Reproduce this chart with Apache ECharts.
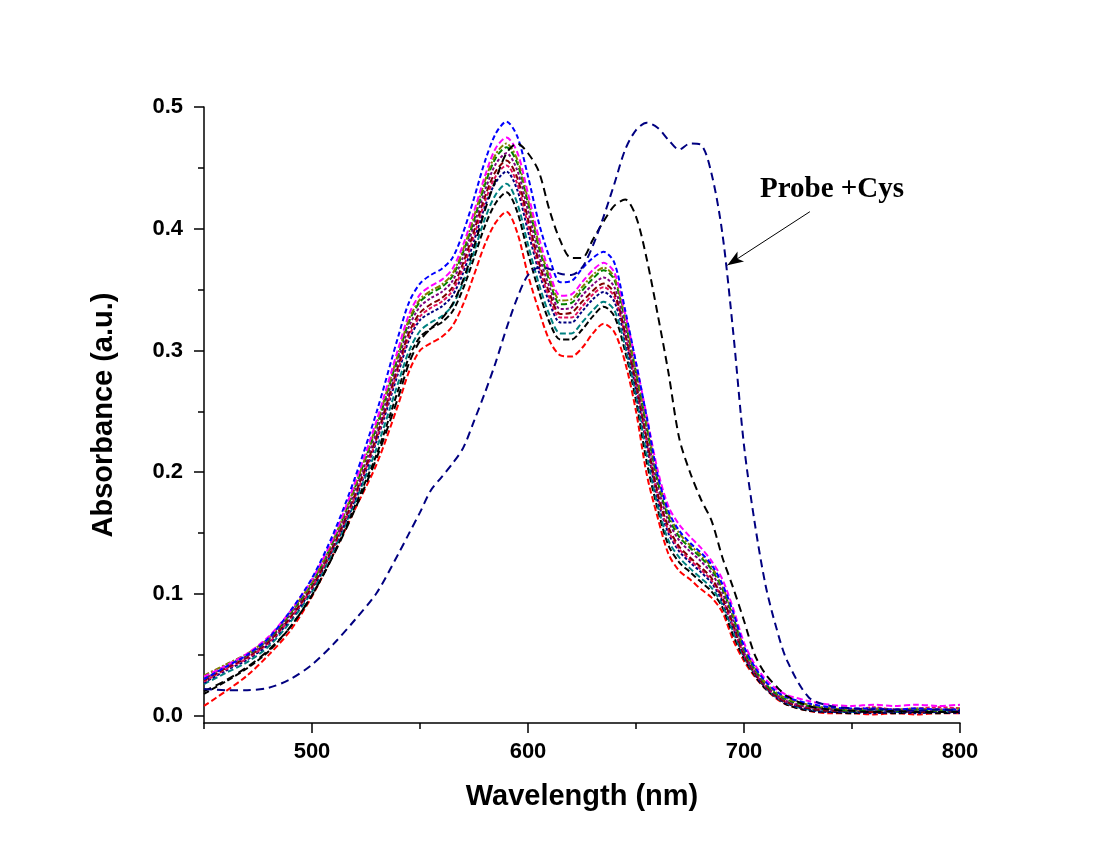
<!DOCTYPE html>
<html>
<head>
<meta charset="utf-8">
<title>Absorbance spectra</title>
<script src="https://cdn.jsdelivr.net/npm/echarts@6/dist/echarts.min.js"></script>
<style>
  html, body { margin: 0; padding: 0; background: #fff; }
  #chart { width: 1100px; height: 857px; }
</style>
</head>
<body>
<div id="chart"></div>
<script>
// wavelength grid (nm), shared by every trace
const wavelength = [450, 460, 470, 480, 490, 500, 510, 520, 530, 540,
  545, 550, 555, 560, 565, 570, 575, 580, 585, 590,
  595, 600, 605, 610, 615, 620, 625, 630, 635, 640,
  645, 650, 655, 660, 665, 670, 675, 680, 685, 690,
  695, 700, 705, 710, 715, 720,
  730, 740, 750, 760, 770, 780, 790, 800];

// probe titration traces
const absBlue = [.030, .040, .050, .064, .086, .113, .150, .196, .250, .312,
  .340, .355, .362, .367, .376, .397, .425, .455, .478, .488,
  .476, .443, .405, .376, .356, .357, .367, .376, .381, .372,
  .333, .290, .245, .198, .168, .152, .142, .134, .124, .108,
  .085, .057, .040, .028, .020, .015,
  .010, .007, .006, .006, .005, .006, .005, .005];
const absMagenta = [.032, .041, .051, .065, .086, .112, .147, .192, .243, .302,
  .330, .346, .353, .358, .367, .387, .414, .443, .466, .475,
  .463, .429, .393, .364, .345, .346, .356, .366, .372, .364,
  .330, .290, .246, .202, .172, .157, .147, .138, .127, .112,
  .088, .060, .042, .030, .022, .017,
  .012, .009, .008, .009, .008, .009, .008, .009];
const absOlive = [.033, .042, .051, .064, .085, .110, .145, .189, .240, .298,
  .326, .342, .349, .354, .363, .383, .410, .439, .461, .470,
  .457, .424, .388, .360, .341, .342, .352, .362, .368, .360,
  .326, .284, .240, .196, .166, .150, .140, .132, .122, .106,
  .083, .056, .039, .027, .019, .014,
  .009, .006, .005, .006, .005, .006, .005, .006];
const absGreen = [.031, .041, .050, .063, .084, .109, .144, .188, .238, .296,
  .324, .340, .347, .352, .361, .381, .407, .436, .458, .467,
  .454, .421, .385, .357, .338, .339, .349, .359, .366, .358,
  .324, .282, .237, .193, .163, .147, .138, .130, .120, .104,
  .081, .054, .038, .026, .018, .013,
  .008, .006, .004, .005, .004, .005, .004, .005];
const absPurple = [.030, .040, .049, .062, .083, .108, .142, .185, .234, .292,
  .320, .336, .343, .348, .357, .377, .403, .431, .453, .462,
  .448, .415, .379, .352, .334, .335, .345, .354, .360, .352,
  .319, .278, .233, .189, .160, .144, .135, .127, .117, .101,
  .078, .052, .036, .025, .017, .012,
  .007, .005, .004, .005, .004, .004, .005, .004];
const absWine = [.029, .039, .048, .061, .081, .106, .140, .182, .230, .288,
  .315, .331, .338, .343, .352, .372, .398, .426, .447, .456,
  .442, .408, .373, .347, .330, .331, .340, .349, .355, .347,
  .314, .273, .227, .183, .155, .139, .130, .122, .113, .097,
  .075, .050, .035, .024, .016, .011,
  .006, .004, .004, .003, .004, .003, .004, .003];
const absCrimson = [.028, .038, .047, .060, .080, .105, .139, .180, .228, .285,
  .312, .328, .335, .340, .349, .368, .394, .422, .443, .452,
  .437, .403, .369, .343, .327, .327, .336, .346, .352, .344,
  .312, .272, .225, .181, .152, .137, .128, .120, .111, .096,
  .073, .050, .035, .024, .016, .011,
  .007, .006, .005, .007, .005, .006, .007, .006];
const absNavy = [.027, .037, .046, .059, .079, .104, .138, .178, .226, .282,
  .309, .325, .331, .336, .345, .364, .390, .418, .438, .447,
  .432, .398, .365, .339, .323, .323, .332, .342, .348, .340,
  .309, .268, .222, .178, .150, .135, .126, .118, .109, .094,
  .072, .049, .034, .023, .015, .010,
  .005, .003, .003, .002, .003, .002, .003, .002];
const absTeal = [.026, .035, .044, .057, .077, .102, .136, .176, .220, .274,
  .300, .316, .323, .328, .337, .356, .381, .408, .428, .437,
  .421, .387, .355, .329, .314, .314, .323, .333, .340, .333,
  .303, .263, .214, .173, .144, .130, .121, .113, .105, .091,
  .069, .048, .034, .023, .015, .010,
  .005, .004, .003, .004, .003, .004, .003, .004];
const absBlack = [.018, .028, .039, .053, .073, .099, .133, .173, .215, .268,
  .295, .311, .318, .323, .332, .351, .376, .402, .421, .430,
  .414, .380, .349, .323, .309, .309, .317, .328, .336, .328,
  .299, .259, .208, .170, .140, .126, .118, .110, .102, .089,
  .066, .047, .033, .022, .015, .009,
  .004, .003, .002, .003, .002, .003, .002, .003];
const absRed = [.008, .020, .033, .050, .070, .098, .133, .170, .207, .256,
  .283, .300, .306, .311, .320, .338, .362, .387, .405, .414,
  .397, .362, .333, .308, .296, .295, .302, .314, .322, .315,
  .290, .250, .198, .163, .133, .119, .112, .104, .097, .085,
  .062, .045, .032, .022, .014, .009,
  .004, .002, .002, .001, .002, .001, .002, .002];
// intermediate trace (black, long dash)
const absShift = [.020, .029, .040, .054, .073, .099, .132, .170, .212, .262,
  .290, .308, .318, .326, .338, .358, .385, .415, .440, .462,
  .470, .462, .447, .415, .390, .376, .376, .391, .406, .419,
  .424, .410, .375, .330, .282, .228, .200, .178, .160, .130,
  .105, .078, .050, .034, .024, .016,
  .008, .005, .004, .003, .004, .003, .003, .003];
// Probe + Cys
const absProbeCys = [.022, .021, .021, .023, .030, .042, .059, .079, .101, .133,
  .150, .167, .185, .196, .207, .220, .242, .265, .290, .318,
  .343, .362, .368, .367, .363, .362, .368, .386, .410, .437,
  .465, .481, .487, .483, .473, .465, .470, .469, .445, .396,
  .315, .222, .158, .107, .072, .045,
  .015, .008, .006, .005, .005, .004, .005, .004];

const xMajor = [500, 600, 700, 800];
const xMinor = [450, 550, 650, 750];
const yMajor = [0, 0.1, 0.2, 0.3, 0.4, 0.5];
const yMinor = [0.05, 0.15, 0.25, 0.35, 0.45];

const traces = [
  { name: 'red', values: absRed, color: '#ff0000', dash: [6, 3] },
  { name: 'black', values: absBlack, color: '#000000', dash: [6, 3] },
  { name: 'teal', values: absTeal, color: '#008080', dash: [6, 3] },
  { name: 'navy', values: absNavy, color: '#000080', dash: [3, 2] },
  { name: 'crimson', values: absCrimson, color: '#e0105a', dash: [4, 2] },
  { name: 'wine', values: absWine, color: '#800000', dash: [6, 3] },
  { name: 'purple', values: absPurple, color: '#800080', dash: [3, 2] },
  { name: 'green', values: absGreen, color: '#008000', dash: [6, 3] },
  { name: 'olive', values: absOlive, color: '#808000', dash: [6, 2, 2, 2] },
  { name: 'magenta', values: absMagenta, color: '#ff00ff', dash: [6, 3] },
  { name: 'blue', values: absBlue, color: '#0000ff', dash: [5, 3] },
  { name: 'shift', values: absShift, color: '#000000', dash: [8, 5] },
  { name: 'Probe +Cys', values: absProbeCys, color: '#000080', dash: [8, 5] }
];

const chart = echarts.init(document.getElementById('chart'));

const axisColor = '#000';
const labelFont = { fontSize: 22, fontWeight: 'bold', fontFamily: 'Liberation Sans', color: '#000' };
const nameFont = { fontSize: 29, fontWeight: 'bold', fontFamily: 'Liberation Sans', color: '#000' };

const series = traces.map(function (t) {
  return {
    name: t.name,
    type: 'line',
    xAxisIndex: 0,
    yAxisIndex: 0,
    data: wavelength.map(function (w, i) { return [w, t.values[i]]; }),
    showSymbol: false,
    smooth: 0.3,
    lineStyle: { color: t.color, width: 2, type: t.dash },
    itemStyle: { color: t.color },
    z: 2
  };
});

// arrow pointing at the Probe + Cys trace
series[series.length - 1].markLine = {
  silent: true,
  symbol: ['none', 'arrow'],
  symbolSize: [9, 16],
  label: { show: false },
  lineStyle: { color: '#000', width: 1, type: 'solid' },
  data: [[{ coord: [730.5, 0.414] }, { coord: [692.3, 0.370] }]]
};

chart.setOption({
  animation: false,
  backgroundColor: '#fff',
  grid: { left: 204, right: 140, top: 107, bottom: 134, outerBoundsMode: 'none' },
  xAxis: [
    {
      type: 'value', min: 450, max: 800, position: 'bottom',
      axisLine: { show: true, onZero: false, lineStyle: { color: axisColor, width: 1.5 } },
      axisTick: { show: true, length: 10, customValues: xMajor, lineStyle: { color: axisColor, width: 1.5 } },
      axisLabel: Object.assign({ customValues: xMajor, margin: 18 }, labelFont),
      splitLine: { show: false },
      name: 'Wavelength (nm)', nameLocation: 'middle', nameGap: 59, nameTextStyle: nameFont
    },
    {
      type: 'value', min: 450, max: 800, position: 'bottom',
      axisLine: { show: false, onZero: false },
      axisTick: { show: true, length: 6, customValues: xMinor, lineStyle: { color: axisColor, width: 1.5 } },
      axisLabel: { show: false },
      splitLine: { show: false }
    }
  ],
  yAxis: [
    {
      type: 'value', min: -0.006, max: 0.5, position: 'left',
      axisLine: { show: true, onZero: false, lineStyle: { color: axisColor, width: 1.5 } },
      axisTick: { show: true, length: 10, customValues: yMajor, lineStyle: { color: axisColor, width: 1.5 } },
      axisLabel: Object.assign({ customValues: yMajor, margin: 21, formatter: function (v) { return v.toFixed(1); } }, labelFont),
      splitLine: { show: false },
      name: 'Absorbance (a.u.)', nameLocation: 'middle', nameGap: 86, nameRotate: 90, nameTextStyle: nameFont
    },
    {
      type: 'value', min: -0.006, max: 0.5, position: 'left',
      axisLine: { show: false, onZero: false },
      axisTick: { show: true, length: 6, customValues: yMinor, lineStyle: { color: axisColor, width: 1.5 } },
      axisLabel: { show: false },
      splitLine: { show: false }
    }
  ],
  graphic: [
    {
      type: 'text', left: 760, top: 175,
      style: { text: 'Probe +Cys', font: 'bold 29px "Liberation Serif"', fill: '#000' }
    }
  ],
  series: series
});
</script>
</body>
</html>
